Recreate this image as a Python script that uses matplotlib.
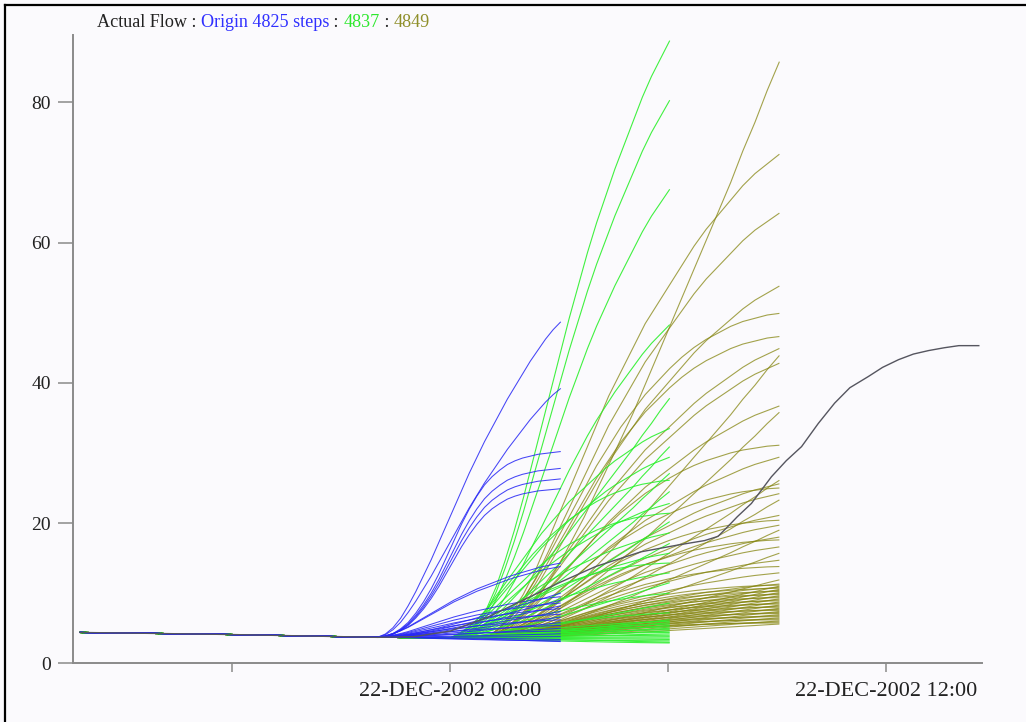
import matplotlib
matplotlib.use("Agg")
import matplotlib.pyplot as plt
import numpy as np
from matplotlib.lines import Line2D

# ---------------- data (hours relative to 22-DEC-2002 00:00) ----------------
hist_t = [-10.2, -8.0, -6.0, -4.0, -3.0, -2.0, -1.0, 0.0, 1.0]
hist_v = [4.4, 4.25, 4.1, 3.9, 3.8, 3.72, 3.66, 3.62, 3.6]

# normalised growth profiles (fraction of the rise), 25 equally spaced steps
prof_l = [0, .008, .02, .04, .065, .095, .13, .17, .21, .255, .30, .345, .39,
          .44, .49, .54, .59, .64, .69, .74, .79, .845, .895, .95, 1.0]
prof_m = [0, .01, .03, .06, .10, .145, .195, .245, .30, .355, .41, .465, .52,
          .57, .62, .665, .71, .755, .795, .835, .875, .91, .945, .975, 1.0]
prof_c = [0, .02, .05, .09, .14, .20, .26, .32, .38, .44, .50, .55, .60,
          .65, .69, .73, .77, .81, .845, .875, .905, .935, .96, .98, 1.0]
prof_S = [0, .005, .02, .045, .08, .13, .19, .26, .34, .43, .52, .61, .69,
          .76, .82, .865, .90, .93, .95, .965, .975, .985, .99, .995, 1.0]
prof_t = [0, .03, .07, .12, .18, .25, .32, .39, .46, .53, .59, .65, .70,
          .75, .79, .83, .865, .895, .92, .94, .96, .975, .985, .995, 1.0]
prof_s = [0, .003, .01, .025, .05, .085, .13, .18, .235, .295, .355, .415, .475,
          .535, .59, .645, .695, .74, .785, .825, .865, .905, .94, .97, 1.0]

# Origin 4825 (blue): fork at -2 h, ends 03:00
blue_fork, blue_stop = -2.0, 3.04
blue_end = [48.7, 39.2, 30.2, 27.8, 26.3, 24.9, 14.3, 13.8, 10.0, 9.5, 9.0, 8.6,
            8.2, 7.8, 7.4, 7.0, 6.6, 6.2, 5.8, 5.4, 5.0, 4.6, 4.2, 3.8, 3.4, 3.2, 3.1]
blue_shape = "mmSSSScc" "lclclclclclclclclcl"

# 4837 (green): fork at 0 h, ends 06:00
green_fork, green_stop = 0.0, 6.04
green_end = [88.8, 80.3, 67.6, 48.3, 37.8, 33.5, 30.9, 29.4, 27.1, 26.1, 24.5, 22.8,
             21.4, 20.2, 18.6, 17.1, 15.7, 14.3, 12.9, 11.5, 10.0, 8.6, 7.2,
             6.2, 6.0, 5.8, 5.6, 5.4, 5.2, 5.0, 4.8, 4.6, 4.4, 4.2, 4.0, 3.8, 3.6,
             3.4, 3.2, 3.0, 2.9]
green_shape = "ssss" "lclcltlctlcl" "ctclclc" "lclclclclclclclclc"

# 4849 (olive): fork at +1 h, ends 09:00
olive_fork, olive_stop = 1.0, 9.06
olive_end = [85.8, 72.6, 64.2, 53.8, 49.9, 46.6, 44.9, 43.9, 42.8, 36.7, 35.8, 31.1,
             29.4, 26.1, 25.6, 25.0, 24.2, 23.3, 21.1, 20.4, 19.7, 19.0, 18.0, 17.6,
             16.6, 15.7, 14.7, 13.8, 12.9, 11.9,
             11.3, 11.15, 11.0, 10.85, 10.7, 10.55, 10.4, 10.25, 10.1, 9.95, 9.8,
             9.65, 9.5, 9.35, 9.2, 9.05, 8.9, 8.75, 8.6, 8.45, 8.3, 8.15, 8.0, 7.85,
             7.7, 7.55, 7.4, 7.25, 7.1, 6.95, 6.8, 6.65, 6.5, 6.35, 6.2, 6.05, 5.9,
             5.75, 5.6]
olive_shape = ("lccc" "ttclcc" "ltclct" "clctcl" "ctclct" "cl"
               "ctlctlctlctlctlctlctlctlctlctlctlctlctl")

# Actual (observed) flow
obs_t = [-10.2, -8.0, -6.0, -4.0, -3.0, -2.0, -1.0, 0.0, 1.0, 2.0, 3.0, 4.0, 5.25,
         6.3, 7.0, 7.37, 7.64, 7.9, 8.29, 8.84, 9.25, 9.67, 10.13, 10.58, 11.0,
         11.51, 11.9, 12.34, 12.75, 13.17, 13.6, 14.0, 14.55]
obs_v = [4.4, 4.25, 4.1, 3.9, 3.8, 3.7, 3.8, 4.6, 6.5, 9.0, 11.5, 13.8, 15.9,
         16.9, 17.5, 18.1, 19.5, 20.9, 22.8, 26.6, 28.9, 30.9, 34.2, 37.1, 39.3,
         40.9, 42.2, 43.3, 44.1, 44.6, 45.0, 45.3, 45.3]

xtick_pos = [-6, 0, 6, 12]
xtick_lab = ["", "22-DEC-2002 00:00", "", "22-DEC-2002 12:00"]
ytick_pos = [0, 20, 40, 60, 80]

profiles = {"l": prof_l, "m": prof_m, "c": prof_c, "S": prof_S, "t": prof_t,
            "s": prof_s}

# ---------------- figure ----------------
W, H = 1026, 722
bg = "#fbfafd"
fig = plt.figure(figsize=(W / 100, H / 100), dpi=100, facecolor=bg)
ax = fig.add_axes([73 / W, 1 - 663.3 / H, (981.7 - 73) / W, (663.3 - 35) / H])
ax.set_facecolor(bg)


def member(fork, stop, end, shape):
    prof = np.asarray(profiles[shape])
    ht = [t for t in hist_t if t < fork]
    hv = hist_v[:len(ht)]
    base = hist_v[hist_t.index(fork)]
    ft = np.linspace(fork, stop, len(prof))
    fv = base + (end - base) * prof
    return np.concatenate([ht, ft]), np.concatenate([hv, fv])


for e, s in zip(olive_end, olive_shape, strict=True):
    t, v = member(olive_fork, olive_stop, e, s)
    ax.plot(t, v, color="#858510", lw=0.8, alpha=0.75, solid_capstyle="butt")
for e, s in zip(green_end, green_shape, strict=True):
    t, v = member(green_fork, green_stop, e, s)
    ax.plot(t, v, color="#2cf02c", lw=0.8, alpha=0.9, solid_capstyle="butt")
for e, s in zip(blue_end, blue_shape, strict=True):
    t, v = member(blue_fork, blue_stop, e, s)
    ax.plot(t, v, color="#2525f5", lw=0.75, alpha=0.85, solid_capstyle="butt")

ax.plot(obs_t, obs_v, color="#55555f", lw=1.0)

ax.set_xlim(-10.39, 14.63)
ax.set_ylim(0, 89.6)
for sp in ["top", "right"]:
    ax.spines[sp].set_visible(False)
for sp in ["left", "bottom"]:
    ax.spines[sp].set_color("#8a8a8a")
    ax.spines[sp].set_linewidth(1.4)

serif = ["Liberation Serif", "DejaVu Serif"]
ax.set_xticks(xtick_pos)
ax.set_xticklabels(xtick_lab, family=serif, fontsize=16, color="#222222")
ax.set_yticks(ytick_pos)
ax.set_yticklabels([str(v) for v in ytick_pos], family=serif, fontsize=14, color="#222222")
ax.tick_params(axis="y", direction="out", length=11, width=1.1, color="#8a8a8a", pad=5)
ax.tick_params(axis="x", direction="out", length=6.5, width=1.1, color="#8a8a8a", pad=7)

# title made of coloured pieces
pieces = [("Actual Flow : ", "#222222"), ("Origin 4825 steps", "#3030ff"),
          (" : ", "#222222"), ("4837", "#2ee82e"), (" : ", "#222222"),
          ("4849", "#8f8f2a")]
prev = fig.text(97 / W, 1 - 27 / H, pieces[0][0], color=pieces[0][1],
                family=serif, fontsize=13.1, ha="left", va="baseline")
for txt, col in pieces[1:]:
    prev = ax.annotate(txt, xy=(1, 0), xycoords=prev, ha="left", va="bottom",
                       color=col, family=serif, fontsize=13.1, annotation_clip=False)

# outer frame (left and top)
fig.add_artist(Line2D([5 / W, 5 / W], [0, 1 - 5 / H], color="black", lw=1.6,
                      transform=fig.transFigure))
fig.add_artist(Line2D([5 / W, 1], [1 - 5 / H, 1 - 5 / H], color="black", lw=1.6,
                      transform=fig.transFigure))

fig.savefig("out.png", dpi=100, facecolor=bg)
